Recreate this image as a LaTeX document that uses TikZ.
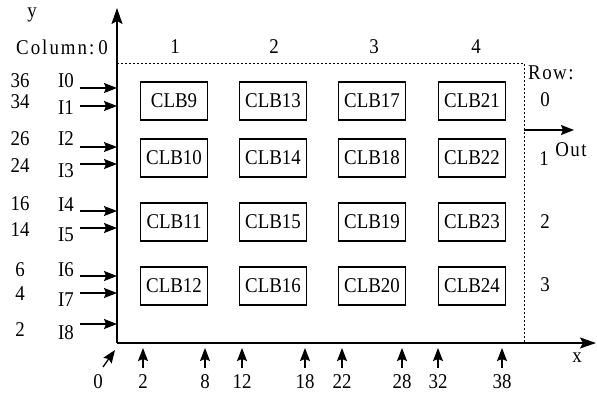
\documentclass[tikz,border=0pt]{standalone}
\usepackage{fontspec}
\setmainfont{Liberation Serif}[FakeStretch=0.9]
\usetikzlibrary{arrows.meta}
\begin{document}
\begin{tikzpicture}[x=1pt,y=-1pt,
  txt/.style={inner sep=0pt,font=\fontsize{21}{21}\selectfont},
  clb/.style={draw,line width=1.1pt,minimum width=67pt,minimum height=38pt,inner sep=0pt,font=\fontsize{21}{21}\selectfont},
  arr/.style={line width=1.3pt,-{Stealth[length=13pt,width=10pt,inset=2pt]}},
  axis/.style={line width=1.6pt,-{Stealth[length=16pt,width=11pt,inset=3pt]}},
  dot/.style={line width=1pt,dash pattern=on 2pt off 2pt}]
\useasboundingbox (0,0) rectangle (597,392);
% axes
\coordinate (O) at (117,343);
\coordinate (ytop) at (117,8);
\coordinate (xend) at (596,343);
\coordinate (TR) at (524,63);
\coordinate (BR) at (524,343);
\coordinate (TL) at (117,63);
\draw[axis] (O) -- (ytop);
\draw[axis] (O) -- (xend);
\draw[dot] (TL) -- (TR) -- (BR);
% labels
\node[txt] (ylab) at (32,15) {y};
\node[txt] (xlab) at (577,358) {x};
\node[txt,anchor=west] (collab) at (16,47) {C\kern2pt o\kern2pt l\kern2pt u\kern2pt m\kern2pt n\kern2pt :\kern4pt 0};
\node[txt] (c1) at (175,47) {1};
\node[txt] (c2) at (274,47) {2};
\node[txt] (c3) at (374,47) {3};
\node[txt] (c4) at (476,47) {4};
\node[txt,anchor=west] (rowlab) at (528,73) {R\kern1.5pt o\kern1.5pt w\kern1.5pt :};
\node[txt] (r0) at (545,100) {0};
\node[txt] (r1) at (544,159) {1};
\node[txt] (r2) at (545,222) {2};
\node[txt] (r3) at (545,285) {3};
\node[txt] (outlab) at (571,150) {O\kern1.5pt u\kern1.5pt t};
\coordinate (outs) at (524,130);
\coordinate (oute) at (574,130);
\draw[arr] (outs) -- (oute);
% CLBs
\foreach \c [count=\i from 0] in {174,273,372,472}{
  \foreach \r [count=\j from 0] in {101,158,222,286}{
    \pgfmathtruncatemacro{\n}{9+4*\i+\j}
    \node[clb] (clb\n) at (\c,\r) {CLB\n};
  }
}
% left inputs
\foreach \lab/\ly/\ay [count=\k from 0] in {I0/81/88, I1/108/106, I2/139/147, I3/171/164, I4/205/211, I5/235/228, I6/270/276, I7/300/293, I8/333/324}{
  \node[txt] (in\k) at (66,\ly) {\lab};
  \coordinate (ins\k) at (80,\ay);
  \coordinate (ine\k) at (117,\ay);
  \draw[arr] (ins\k) -- (ine\k);
}
\foreach \num/\ny [count=\k from 0] in {36/81,34/102,26/139,24/166,16/204,14/230,6/270,4/294,2/330}{
  \node[txt] (ln\k) at (20,\ny) {\num};
}
% bottom arrows
\foreach \num/\bx [count=\k from 0] in {2/143,8/205,12/242,18/305,22/342,28/402,32/438,38/502}{
  \coordinate (bs\k) at (\bx,368);
  \coordinate (be\k) at (\bx,348);
  \draw[arr] (bs\k) -- (be\k);
  \node[txt] (bn\k) at (\bx,382) {\num};
}
\node[txt] (b0) at (98,382) {0};
\coordinate (d0s) at (103,367);
\coordinate (d0e) at (115,350);
\draw[arr] (d0s) -- (d0e);
\end{tikzpicture}
\end{document}
